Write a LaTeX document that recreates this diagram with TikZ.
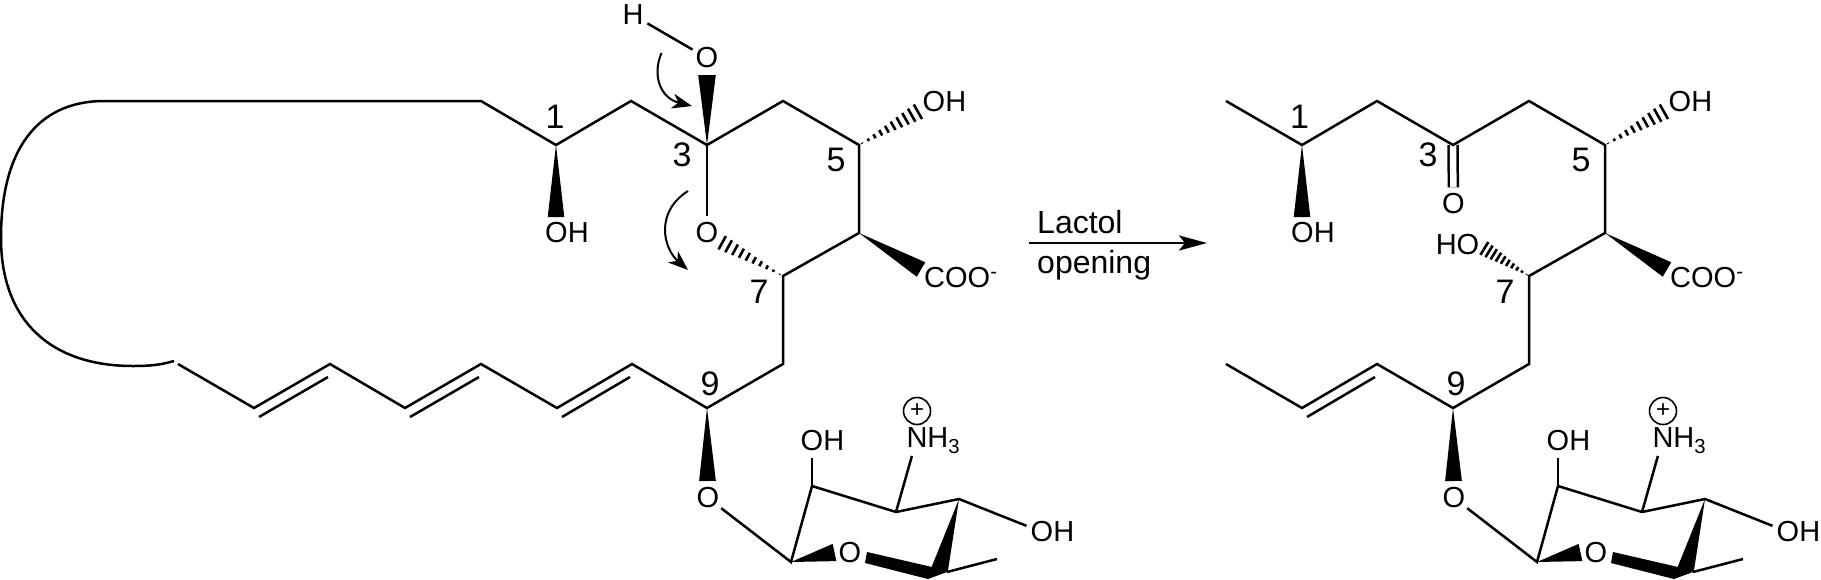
\documentclass[tikz,border=0pt]{standalone}
\usepackage{fontspec}
\setmainfont{Liberation Sans}
\usetikzlibrary{calc,arrows.meta}

\newcommand{\wedgebond}[3]{\fill (#1) -- ($(#2)!#3pt!90:(#1)$) -- ($(#2)!#3pt!-90:(#1)$) -- cycle;}
\newcommand{\hashbond}[3]{\foreach \s in {0.05,0.15,...,0.96} {\draw [hash] ($(#1)!\s!(#2)!\s*#3pt!90:(#2)$) -- ($(#1)!\s!(#2)!-\s*#3pt!90:(#2)$);}}
\newcommand{\innerbond}[2]{\draw [bond] ($(#1)+(5,9)$) -- ($(#2)+(-2,13)$);}

\begin{document}
\begin{tikzpicture}[x=1pt, y=-1pt,
    bond/.style = {line width=2.5pt, line join=miter},
    hash/.style = {line width=2.6pt},
    curly/.style = {line width=2pt, -{Stealth[length=20pt, width=15pt, inset=6pt]}},
    atom/.style = {circle, inner sep=0, minimum size=33pt, font=\fontsize{29}{32}\selectfont},
    txt/.style = {inner sep=0, font=\fontsize{29}{32}\selectfont},
    num/.style = {inner sep=0, font=\fontsize{34}{36}\selectfont},
    charge/.style = {draw, circle, line width=1.6pt, inner sep=0, minimum size=27pt, font=\fontsize{24}{24}\selectfont}]
    \useasboundingbox (0,0) rectangle (1821,579);

    % left molecule
    \coordinate (ca) at (481,101);
    \coordinate (c1) at (556,145);
    \coordinate (c2) at (631,101);
    \coordinate (c3) at (707,145);
    \coordinate (c4) at (783,101);
    \coordinate (c5) at (859,145);
    \coordinate (c6) at (859,233);
    \coordinate (c7) at (783,276);
    \coordinate (c8) at (783,364);
    \coordinate (c9) at (707,408);
    \coordinate (d1) at (632,364);
    \coordinate (d2) at (557,408);
    \coordinate (d3) at (481,364);
    \coordinate (d4) at (405,408);
    \coordinate (d5) at (330,364);
    \coordinate (d6) at (254,408);
    \coordinate (d7) at (178,364);
    \coordinate (ce) at (174,361);
    \coordinate (s1) at (791,562);
    \coordinate (s2) at (812,486);
    \coordinate (s3) at (896,512);
    \coordinate (s4) at (959,499);
    \coordinate (s5) at (928,579);
    \coordinate (s6) at (947,572);
    \coordinate (me) at (997,559);

    \node[atom] (h) at (633,15) {H};
    \node[atom] (o3) at (707,58) {O};
    \node[atom] (oring) at (707,233) {O};
    \node[atom] (oh1) at (556.5,233) {O\rlap{H}};
    \node[atom] (oh5) at (934,102) {O\rlap{H}};
    \node[txt, anchor=base west] (coo) at (924,287.5) {COO\textsuperscript{-}};
    \node[atom] (o9) at (708,498) {O};
    \node[atom] (oh2) at (812,441) {O\rlap{H}};
    \node[atom, minimum size=37pt] (nh) at (917,438) {N\rlap{\smash{H\textsubscript{3}}}};
    \node[charge] (plus) at (917,411) {+};
    \node[atom] (oh4) at (1042,532) {O\rlap{H}};
    \node[atom] (osug) at (850,553) {O};

    \node[num] (n1) at (555,117) {1};
    \node[num] (n3) at (682,155) {3};
    \node[num] (n5) at (836,160) {5};
    \node[num] (n7) at (759,292) {7};
    \node[num] (n9) at (710,384) {9};

    \draw [bond] (d7) -- (d6) -- (d5) -- (d4) -- (d3) -- (d2) -- (d1) -- (c9) -- (c8) -- (c7) -- (c6) -- (c5) -- (c4) -- (c3) -- (c2) -- (c1) -- (ca) -- (104,101)
        .. controls (45,101) and (1,140) .. (1,238)
        .. controls (1,320) and (50,366) .. (133,366)
        .. controls (150,366) and (160,365) .. (ce);
    \innerbond{d2}{d1}
    \innerbond{d4}{d3}
    \innerbond{d6}{d5}
    \draw [bond] (h) -- (o3);
    \draw [bond] (c3) -- (oring);
    \coordinate (w3) at (707,75);
    \wedgebond{c3}{w3}{8.8}
    \coordinate (w1) at (556,217);
    \wedgebond{c1}{w1}{8.3}
    \coordinate (w6) at (921,269.5);
    \wedgebond{c6}{w6}{8.4}
    \coordinate (w9) at (707.5,481);
    \wedgebond{c9}{w9}{8.4}
    \coordinate (h5) at (921,110);
    \hashbond{c5}{h5}{8.8}
    \coordinate (h7) at (719,241);
    \hashbond{c7}{h7}{8}

    \draw [bond] (o9) -- (s1) -- (s2) -- (s3) -- (s4) -- (oh4);
    \draw [bond] (s2) -- (oh2);
    \draw [bond] (s3) -- (nh);
    \draw [bond] (s6) -- (me);
    \coordinate (ws1) at (834.5,552.5);
    \wedgebond{s1}{ws1}{8.8}
    \coordinate (ws4) at (939.5,570);
    \wedgebond{s4}{ws4}{8.5}
    \fill ($(osug)+(17,-1)$) -- ($(osug)+(15,10)$) -- (s5) -- (s6) -- ($(s5)+(4,-12)$) -- cycle;

    % curly arrows
    \coordinate (a1) at (661.5,53);
    \coordinate (a2) at (692,106);
    \coordinate (b1) at (688,191);
    \coordinate (b2) at (688,270);
    \draw [curly] (a1) .. controls (652,75) and (660,98) .. (a2);
    \draw [curly] (b1) .. controls (655,212) and (663,248) .. (b2);

    % reaction arrow
    \coordinate (ra) at (1029,243);
    \coordinate (rb) at (1207,243);
    \draw [line width=2.5pt, -{Stealth[length=28pt, width=15pt, inset=6pt]}] (ra) -- (rb);
    \node[txt, anchor=base west, font=\fontsize{32}{34}\selectfont] (lac) at (1037,233) {Lactol};
    \node[txt, anchor=base west, font=\fontsize{32}{34}\selectfont] (ope) at (1037,273) {opening};

    % right molecule
    \coordinate (car) at (1226,101);
    \coordinate (c1r) at (1302,145);
    \coordinate (c2r) at (1377,101);
    \coordinate (c3r) at (1453,145);
    \coordinate (c4r) at (1529,101);
    \coordinate (c5r) at (1605,145);
    \coordinate (c6r) at (1605,233);
    \coordinate (c7r) at (1529,276);
    \coordinate (c8r) at (1529,364);
    \coordinate (c9r) at (1453,408);
    \coordinate (d1r) at (1377,364);
    \coordinate (d2r) at (1302,408);
    \coordinate (d3r) at (1226,364);
    \coordinate (s1r) at (1537,562);
    \coordinate (s2r) at (1558,486);
    \coordinate (s3r) at (1642,512);
    \coordinate (s4r) at (1705,499);
    \coordinate (s5r) at (1674,579);
    \coordinate (s6r) at (1693,572);
    \coordinate (mer) at (1743,559);

    \node[atom] (o3r) at (1453.5,204) {O};
    \node[atom] (oh1r) at (1302.5,233) {O\rlap{H}};
    \node[atom] (oh5r) at (1680,102) {O\rlap{H}};
    \node[atom] (oh7r) at (1468,245) {\llap{H}O};
    \node[txt, anchor=base west] (coor) at (1670,287.5) {COO\textsuperscript{-}};
    \node[atom] (o9r) at (1454,498) {O};
    \node[atom] (oh2r) at (1558,441) {O\rlap{H}};
    \node[atom, minimum size=37pt] (nhr) at (1663,438) {N\rlap{\smash{H\textsubscript{3}}}};
    \node[charge] (plusr) at (1663,411) {+};
    \node[atom] (oh4r) at (1788,532) {O\rlap{H}};
    \node[atom] (osugr) at (1596,553) {O};

    \node[num] (n1r) at (1299.5,117) {1};
    \node[num] (n3r) at (1428,155) {3};
    \node[num] (n5r) at (1581,160) {5};
    \node[num] (n7r) at (1505,292) {7};
    \node[num] (n9r) at (1456,384) {9};

    \draw [bond, double, double distance=6.5pt] (c3r) -- (o3r);
    \draw [bond] (d3r) -- (d2r) -- (d1r) -- (c9r) -- (c8r) -- (c7r) -- (c6r) -- (c5r) -- (c4r) -- (c3r) -- (c2r) -- (c1r) -- (car);
    \innerbond{d2r}{d1r}
    \coordinate (w1r) at (1302,217);
    \wedgebond{c1r}{w1r}{8.3}
    \coordinate (w6r) at (1667,269.5);
    \wedgebond{c6r}{w6r}{8.4}
    \coordinate (w9r) at (1453.5,481);
    \wedgebond{c9r}{w9r}{8.4}
    \coordinate (h5r) at (1667,110);
    \hashbond{c5r}{h5r}{8.8}
    \coordinate (h7r) at (1482,247);
    \hashbond{c7r}{h7r}{8}

    \draw [bond] (o9r) -- (s1r) -- (s2r) -- (s3r) -- (s4r) -- (oh4r);
    \draw [bond] (s2r) -- (oh2r);
    \draw [bond] (s3r) -- (nhr);
    \draw [bond] (s6r) -- (mer);
    \coordinate (ws1r) at (1580.5,552.5);
    \wedgebond{s1r}{ws1r}{8.8}
    \coordinate (ws4r) at (1685.5,570);
    \wedgebond{s4r}{ws4r}{8.5}
    \fill ($(osugr)+(17,-1)$) -- ($(osugr)+(15,10)$) -- (s5r) -- (s6r) -- ($(s5r)+(4,-12)$) -- cycle;
\end{tikzpicture}
\end{document}
